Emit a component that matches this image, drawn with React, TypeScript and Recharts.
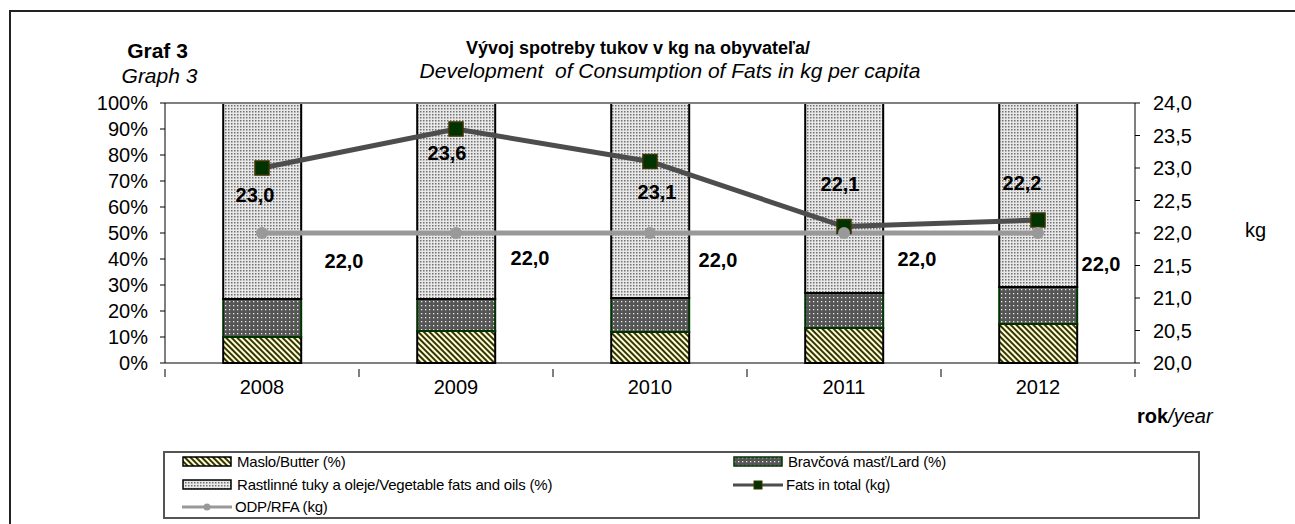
import React from 'react';
import {
  ComposedChart,
  Bar,
  Line,
  XAxis,
  YAxis,
  ReferenceLine,
  LabelList,
} from 'recharts';

// values
const years = ['2008', '2009', '2010', '2011', '2012'];
const butter = [10.0, 12.3, 11.9, 13.5, 15.0];
const lard = [14.6, 12.3, 13.1, 13.4, 14.2];
const vegetable = [75.4, 75.4, 75.0, 73.1, 70.8];
const fatsTotal = [23.0, 23.6, 23.1, 22.1, 22.2];
const odpRfa = [22.0, 22.0, 22.0, 22.0, 22.0];

const pctTicks = [0, 10, 20, 30, 40, 50, 60, 70, 80, 90, 100];
const kgTicks = [20, 20.5, 21, 21.5, 22, 22.5, 23, 23.5, 24];

// label placement (Excel put them by hand)
const fatsLabelDx = [-7, -9, 7, -4, -16];
const fatsLabelDy = [27, 24, 30, -43, -37];
const odpLabelDx = [82, 74, 68, 73, 63];
const odpLabelDy = [28, 25, 27, 26, 31];

const data = years.map((year, i) => ({
  year,
  butter: butter[i],
  lard: lard[i],
  vegetable: vegetable[i],
  fats: fatsTotal[i],
  odp: odpRfa[i],
}));

const FONT = '"Liberation Sans", Arial, sans-serif';
const kgFmt = (v: number) => v.toFixed(1).replace('.', ',');
const HALF_BAND = 97;

const Patterns = () => (
  <svg width={0} height={0} style={{ position: 'absolute' }}>
    <defs>
      <pattern id="patButter" width={4} height={4} patternUnits="userSpaceOnUse" patternTransform="rotate(-45)">
        <rect width={4} height={4} fill="#ffffd0" />
        <rect width={2} height={4} fill="#33330d" />
      </pattern>
      <pattern id="patLard" width={4} height={4} patternUnits="userSpaceOnUse">
        <rect width={4} height={4} fill="#555555" />
        <rect x={1} y={1} width={1.3} height={1.3} fill="#e8e8e8" />
      </pattern>
      <pattern id="patVeg" width={3} height={3} patternUnits="userSpaceOnUse">
        <rect width={3} height={3} fill="#e8e8e8" />
        <rect width={1.5} height={1.5} fill="#707070" />
      </pattern>
    </defs>
  </svg>
);

const XTick = (props: any) => {
  const { x, y, payload, index } = props;
  return (
    <g>
      {index === 0 && <line x1={x - HALF_BAND} y1={y - 2} x2={x - HALF_BAND} y2={y + 6} stroke="#000" />}
      <line x1={x + HALF_BAND} y1={y - 2} x2={x + HALF_BAND} y2={y + 6} stroke="#000" />
      <text x={x} y={y + 23} textAnchor="middle" fontSize={20} fontFamily={FONT} fill="#000">
        {payload.value}
      </text>
    </g>
  );
};

const SquareDot = (props: any) => {
  const { cx, cy, index } = props;
  return (
    <rect
      key={`sq-${index}`}
      x={cx - 7}
      y={cy - 7}
      width={14}
      height={14}
      fill="#003300"
      stroke="#3b3300"
      strokeWidth={1.5}
    />
  );
};

const RoundDot = (props: any) => {
  const { cx, cy, index } = props;
  return <circle key={`rd-${index}`} cx={cx} cy={cy} r={6} fill="#999999" />;
};

const makeLabel = (dxs: number[], dys: number[]) => (props: any) => {
  const { x, y, value, index } = props;
  return (
    <text
      x={x + dxs[index]}
      y={y + dys[index]}
      textAnchor="middle"
      dominantBaseline="central"
      fontSize={20}
      fontWeight="bold"
      fontFamily={FONT}
      fill="#000"
    >
      {kgFmt(value)}
    </text>
  );
};

const Swatch = ({ fill, stroke }: { fill: string; stroke: string }) => (
  <svg width={50} height={11} style={{ marginRight: 5 }}>
    <rect x={1} y={1} width={48} height={9} fill={fill} stroke={stroke} strokeWidth={1.5} />
  </svg>
);

const LineSwatch = ({ color, square }: { color: string; square: boolean }) => (
  <svg width={50} height={12} style={{ marginRight: 3 }}>
    <line x1={0} y1={6} x2={50} y2={6} stroke={color} strokeWidth={3} />
    {square ? (
      <rect x={21} y={2} width={8} height={8} fill="#003300" stroke="#3b3300" />
    ) : (
      <circle cx={25} cy={6} r={3.5} fill={color} />
    )}
  </svg>
);

const legendItem: React.CSSProperties = {
  position: 'absolute',
  display: 'flex',
  alignItems: 'center',
  fontSize: 15,
  fontFamily: FONT,
  color: '#000',
  whiteSpace: 'nowrap',
  letterSpacing: -0.2,
};

export default function App() {
  return (
    <div style={{ position: 'absolute', left: 0, top: 0, width: 1295, height: 524, background: '#fff', overflow: 'hidden' }}>
      <Patterns />
      <div style={{ position: 'absolute', left: 9, top: 10, width: 1400, height: 600, borderTop: '2px solid #222', borderLeft: '2px solid #222' }} />

      <div style={{ position: 'absolute', left: 60, width: 195, top: 39, textAlign: 'center', fontFamily: FONT, fontSize: 21, fontWeight: 'bold' }}>Graf 3</div>
      <div style={{ position: 'absolute', left: 62, width: 195, top: 64, textAlign: 'center', fontFamily: FONT, fontSize: 21, fontStyle: 'italic' }}>Graph 3</div>
      <div style={{ position: 'absolute', left: 338, width: 600, top: 38, textAlign: 'center', fontFamily: FONT, fontSize: 18, fontWeight: 'bold' }}>
        Vývoj spotreby tukov v kg na obyvateľa/
      </div>
      <div style={{ position: 'absolute', left: 370, width: 600, top: 59, textAlign: 'center', fontFamily: FONT, fontSize: 21, fontStyle: 'italic', whiteSpace: 'pre' }}>
        Development  of Consumption of Fats in kg per capita
      </div>
      <div style={{ position: 'absolute', left: 1245, top: 219, fontFamily: FONT, fontSize: 20 }}>kg</div>
      <div style={{ position: 'absolute', left: 1137, top: 405, fontFamily: FONT, fontSize: 20 }}>
        <b>rok</b>
        <i>/year</i>
      </div>

      <div style={{ position: 'absolute', left: 0, top: 0 }}>
        <ComposedChart
          width={1295}
          height={524}
          data={data}
          margin={{ top: 103, right: 100, bottom: 131, left: 105 }}
          barCategoryGap="30%"
        >
          <XAxis
            dataKey="year"
            xAxisId="x"
            height={30}
            stroke="#000"
            tickLine={false}
            tick={<XTick />}
            interval={0}
          />
          <YAxis
            yAxisId="pct"
            width={60}
            domain={[0, 100]}
            ticks={pctTicks}
            tickFormatter={(v: number) => `${v}%`}
            stroke="#000"
            tickSize={5}
            tickMargin={12}
            tick={{ fontSize: 20, fontFamily: FONT, fill: '#000' }}
            interval={0}
          />
          <YAxis
            yAxisId="kg"
            orientation="right"
            width={60}
            domain={[20, 24]}
            ticks={kgTicks}
            tickFormatter={kgFmt}
            stroke="#000"
            tickSize={5}
            tickMargin={13}
            tick={{ fontSize: 20, fontFamily: FONT, fill: '#000', textAnchor: 'start' }}
            interval={0}
          />
          <ReferenceLine yAxisId="pct" xAxisId="x" y={100} stroke="#808080" strokeWidth={2} />
          <Bar dataKey="butter" stackId="s" xAxisId="x" yAxisId="pct" fill="url(#patButter)" stroke="#000" strokeWidth={2} isAnimationActive={false} />
          <Bar dataKey="lard" stackId="s" xAxisId="x" yAxisId="pct" fill="url(#patLard)" stroke="#003300" strokeWidth={2} isAnimationActive={false} />
          <Bar dataKey="vegetable" stackId="s" xAxisId="x" yAxisId="pct" fill="url(#patVeg)" stroke="#000" strokeWidth={2} isAnimationActive={false} />
          <Line
            dataKey="fats"
            xAxisId="x"
            yAxisId="kg"
            stroke="#4d4d4d"
            strokeWidth={5}
            dot={<SquareDot />}
            activeDot={false}
            isAnimationActive={false}
          >
            <LabelList dataKey="fats" content={makeLabel(fatsLabelDx, fatsLabelDy)} />
          </Line>
          <Line
            dataKey="odp"
            xAxisId="x"
            yAxisId="kg"
            stroke="#999999"
            strokeWidth={5}
            dot={<RoundDot />}
            activeDot={false}
            isAnimationActive={false}
          >
            <LabelList dataKey="odp" content={makeLabel(odpLabelDx, odpLabelDy)} />
          </Line>
        </ComposedChart>
      </div>

      <div style={{ position: 'absolute', left: 163, top: 451, width: 1037, height: 68, border: '2px solid #555', boxSizing: 'border-box' }} />
      <div style={{ ...legendItem, left: 182, top: 453 }}>
        <Swatch fill="url(#patButter)" stroke="#000" />Maslo/Butter (%)
      </div>
      <div style={{ ...legendItem, left: 733, top: 453 }}>
        <Swatch fill="url(#patLard)" stroke="#003300" />Bravčová masť/Lard (%)
      </div>
      <div style={{ ...legendItem, left: 182, top: 476 }}>
        <Swatch fill="url(#patVeg)" stroke="#000" />Rastlinné tuky a oleje/Vegetable fats and oils (%)
      </div>
      <div style={{ ...legendItem, left: 733, top: 476 }}>
        <LineSwatch color="#4d4d4d" square />Fats in total (kg)
      </div>
      <div style={{ ...legendItem, left: 182, top: 498 }}>
        <LineSwatch color="#999999" square={false} />ODP/RFA (kg)
      </div>
    </div>
  );
}
